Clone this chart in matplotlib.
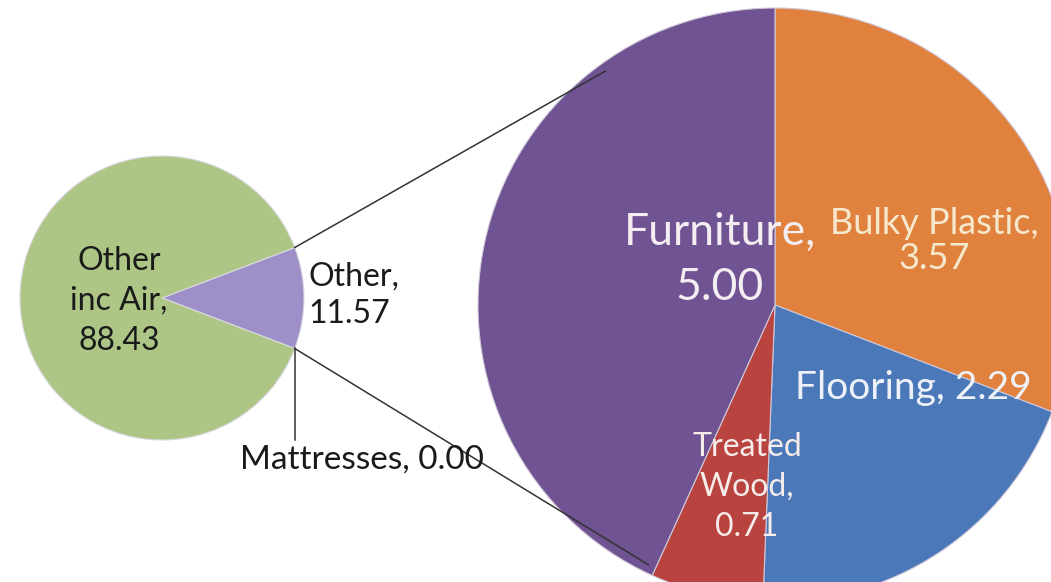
"""Pie-of-pie: share of 'Other' broken out into waste streams."""
import numpy as np
import matplotlib.pyplot as plt

W, H = 1051, 582

# data
main_labels = ["Other", "Other inc Air"]
main_values = [11.57, 88.43]
sub_labels = ["Bulky Plastic", "Flooring", "Treated Wood", "Furniture"]
sub_values = [3.57, 2.29, 0.71, 5.00]
zero_label = "Mattresses"
zero_value = 0.00

MAIN_COLORS = ["#9f8fc8", "#aec685"]
SUB_COLORS = ["#e0823d", "#4a78b8", "#b8433f", "#6f5393"]

# layout (pixel space, y measured from top of image)
LEFT_C, LEFT_R = (162, 298), 142
RIGHT_C, RIGHT_R = (775, 305), 297

plt.rcParams["font.family"] = ["Lato", "DejaVu Sans"]


def Y(y):
    return H - y


fig = plt.figure(figsize=(W / 100, H / 100), dpi=100)
ax = fig.add_axes([0, 0, 1, 1])

# left pie: "Other" wedge centred on 0 deg
half = main_values[0] / sum(main_values) * 360 / 2
ax.pie(main_values, colors=MAIN_COLORS, startangle=-half, counterclock=True,
       center=(LEFT_C[0], Y(LEFT_C[1])), radius=LEFT_R, frame=True,
       wedgeprops=dict(linewidth=0.8, edgecolor="#d8d8e0"))

# right pie: breakdown, clockwise from 12 o'clock
ax.pie(sub_values, colors=SUB_COLORS, startangle=90, counterclock=False,
       center=(RIGHT_C[0], Y(RIGHT_C[1])), radius=RIGHT_R, frame=True,
       wedgeprops=dict(linewidth=0.8, edgecolor="#d0c8d8"))

# connector lines from the "Other" wedge corners to the breakout pie
lc = np.array([LEFT_C[0], Y(LEFT_C[1])], dtype=float)
rc = np.array([RIGHT_C[0], Y(RIGHT_C[1])], dtype=float)
top_l = lc + LEFT_R * np.array([np.cos(np.radians(half)), np.sin(np.radians(half))])
bot_l = lc + LEFT_R * np.array([np.cos(np.radians(-half)), np.sin(np.radians(-half))])
top_r = rc + (RIGHT_R - 8) * np.array([np.cos(np.radians(126)), np.sin(np.radians(126))])
bot_r = rc + (RIGHT_R - 8) * np.array([np.cos(np.radians(-116)), np.sin(np.radians(-116))])
ax.plot([top_l[0], top_r[0]], [top_l[1], top_r[1]], color="#333333", lw=1.1, zorder=1)
ax.plot([bot_l[0], bot_r[0]], [bot_l[1], bot_r[1]], color="#333333", lw=1.1, zorder=1)

# leader for the zero slice
ax.plot([bot_l[0], bot_l[0]], [bot_l[1], Y(440)], color="#333333", lw=1.1)

# labels
dark = "#1a1a1a"
ax.text(119, Y(301), f"Other\ninc Air,\n{main_values[1]:.2f}", ha="center", va="center",
        fontsize=23, color=dark, linespacing=1.4)
ax.text(308, Y(295), f"{main_labels[0]},\n{main_values[0]:.2f}", ha="left", va="center",
        fontsize=23, color=dark, linespacing=1.3)
ax.text(362, Y(460), f"{zero_label}, {zero_value:.2f}", ha="center", va="center",
        fontsize=24, color=dark)

light = "#f4eef2"
ax.text(720, Y(260), f"{sub_labels[3]},\n{sub_values[3]:.2f}", ha="center", va="center",
        fontsize=32, color=light, linespacing=1.45, zorder=5)
ax.text(934, Y(241), f"{sub_labels[0]},\n{sub_values[0]:.2f}", ha="center", va="center",
        fontsize=26, color="#f6e8cc", linespacing=1.1, zorder=5)
ax.text(913, Y(388), f"{sub_labels[1]}, {sub_values[1]:.2f}", ha="center", va="center",
        fontsize=28, color="#eef2f8", zorder=5)
ax.text(747, Y(487), "Treated\nWood,\n" + f"{sub_values[2]:.2f}", ha="center", va="center",
        fontsize=23, color="#f6ecea", linespacing=1.4, zorder=5)

ax.set_xlim(0, W)
ax.set_ylim(0, H)
ax.set_aspect("equal")
ax.axis("off")

fig.savefig("out.png", dpi=100, facecolor="white")
